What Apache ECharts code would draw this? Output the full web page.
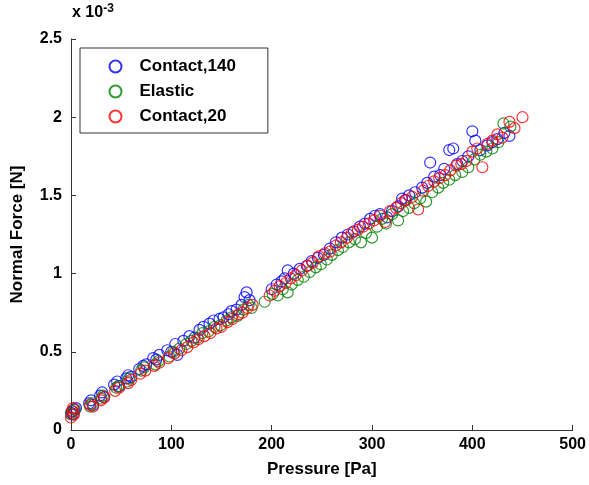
<!DOCTYPE html>
<html>
<head>
<meta charset="utf-8">
<script src="https://cdn.jsdelivr.net/npm/echarts@6/dist/echarts.min.js"></script>
<style>
html, body { margin: 0; padding: 0; background: #fff; }
#chart-panel { width: 589px; height: 485px; }
</style>
</head>
<body>
<div id="chart-panel"></div>
<script>
// pressure [Pa], normal force [x 1e-3 N]
var contact140 = [
    [0,0.11],[1,0.12],[2,0.10],[3,0.13],[5,0.14],[18,0.17],[20,0.19],[22,0.16],[29,0.22],[31,0.24],
    [33,0.21],[43,0.29],[46,0.31],[48,0.28],[55,0.33],[57,0.35],[60,0.34],[68,0.39],[72,0.41],[75,0.42],
    [82,0.46],[85,0.45],[88,0.48],[96,0.51],[100,0.50],[104,0.55],[106,0.48],[112,0.57],[118,0.60],[123,0.59],
    [128,0.64],[132,0.66],[138,0.68],[142,0.70],[148,0.71],[152,0.72],[157,0.74],[160,0.76],[165,0.77],[170,0.80],
    [173,0.85],[175,0.88],[178,0.83],[200,0.90],[205,0.93],[210,0.95],[213,0.97],[216,1.02],[222,1.00],[228,1.03],
    [235,1.05],[240,1.08],[246,1.10],[252,1.12],[258,1.16],[264,1.20],[270,1.23],[276,1.25],[282,1.27],[288,1.30],
    [293,1.32],[298,1.35],[303,1.37],[308,1.38],[315,1.36],[320,1.40],[326,1.43],[330,1.48],[333,1.47],[337,1.50],
    [343,1.52],[350,1.55],[355,1.58],[358,1.71],[362,1.62],[368,1.63],[372,1.67],[377,1.79],[381,1.80],[385,1.70],
    [390,1.72],[396,1.75],[400,1.91],[403,1.85],[408,1.79],[415,1.82],[420,1.84],[425,1.86],[432,1.90],[437,1.88]
];
var elastic = [
    [0,0.10],[2,0.12],[4,0.13],[19,0.15],[21,0.17],[30,0.20],[32,0.22],[45,0.27],[47,0.28],[56,0.31],
    [58,0.33],[70,0.38],[73,0.40],[84,0.42],[87,0.44],[98,0.47],[102,0.50],[108,0.52],[115,0.55],[120,0.57],
    [126,0.59],[131,0.62],[137,0.63],[143,0.66],[149,0.67],[155,0.70],[160,0.72],[166,0.73],[172,0.77],[177,0.80],
    [180,0.78],[193,0.82],[201,0.87],[206,0.86],[211,0.90],[216,0.88],[220,0.93],[226,0.96],[232,0.98],[238,1.01],
    [244,1.04],[249,1.06],[255,1.09],[260,1.12],[266,1.15],[271,1.17],[277,1.20],[283,1.22],[289,1.20],[294,1.26],
    [300,1.23],[305,1.30],[310,1.35],[314,1.32],[320,1.38],[326,1.34],[331,1.40],[337,1.42],[342,1.45],[348,1.48],
    [354,1.46],[360,1.52],[366,1.55],[371,1.58],[377,1.60],[383,1.63],[390,1.65],[396,1.68],[402,1.73],[408,1.76],
    [414,1.78],[420,1.80],[426,1.84],[431,1.96],[438,1.94]
];
var contact20 = [
    [0,0.08],[1,0.12],[3,0.10],[2,0.14],[19,0.16],[22,0.15],[30,0.19],[33,0.21],[44,0.25],[48,0.27],
    [57,0.30],[60,0.32],[69,0.36],[74,0.38],[83,0.41],[88,0.43],[97,0.46],[103,0.49],[110,0.51],[116,0.53],
    [122,0.56],[127,0.58],[133,0.60],[139,0.62],[145,0.65],[150,0.66],[156,0.69],[161,0.71],[167,0.74],[171,0.75],
    [176,0.78],[181,0.80],[198,0.86],[203,0.89],[208,0.92],[214,0.94],[219,0.97],[224,0.99],[230,1.02],[236,1.05],
    [241,1.07],[247,1.11],[253,1.13],[258,1.14],[264,1.18],[269,1.20],[275,1.23],[280,1.26],[286,1.28],[291,1.30],
    [297,1.32],[302,1.34],[308,1.37],[313,1.33],[318,1.40],[324,1.42],[329,1.45],[334,1.47],[340,1.49],[346,1.41],
    [351,1.53],[356,1.56],[362,1.59],[367,1.61],[373,1.63],[378,1.66],[384,1.69],[389,1.70],[394,1.72],[400,1.78],
    [405,1.80],[410,1.68],[415,1.83],[420,1.85],[425,1.89],[430,1.87],[437,1.97],[442,1.93],[450,2.00]
];
var seriesNames = ['Contact,140', 'Elastic', 'Contact,20'];
var seriesColors = ['#0000ff', '#008000', '#ff0000'];

var chart = echarts.init(document.getElementById('chart-panel'));
var font = 'Liberation Sans, Arial, sans-serif';

function circles(name, data, color) {
    return {
        name: name,
        type: 'scatter',
        data: data,
        symbol: 'circle',
        symbolSize: 11,
        itemStyle: { color: 'none', borderColor: color, borderWidth: 1.2 },
        emphasis: { disabled: true }
    };
}

var option = {
    backgroundColor: '#fff',
    animation: false,
    grid: { left: 71, right: 16, top: 39, bottom: 55 },
    xAxis: {
        type: 'value', min: 0, max: 500, interval: 100,
        name: 'Pressure [Pa]', nameLocation: 'middle', nameGap: 31,
        nameTextStyle: { fontFamily: font, fontWeight: 'bold', fontSize: 17, color: '#000' },
        axisLine: { lineStyle: { color: '#333', width: 1 } },
        axisTick: { inside: true, length: 5, lineStyle: { color: '#333' } },
        axisLabel: { fontFamily: font, fontWeight: 'bold', fontSize: 16, color: '#000', margin: 7 },
        splitLine: { show: false }
    },
    yAxis: {
        type: 'value', min: 0, max: 2.5, interval: 0.5,
        name: 'Normal Force [N]', nameLocation: 'middle', nameGap: 45,
        nameTextStyle: { fontFamily: font, fontWeight: 'bold', fontSize: 17, color: '#000' },
        axisLine: { show: true, lineStyle: { color: '#333', width: 1 } },
        axisTick: { show: true, inside: true, length: 5, lineStyle: { color: '#333' } },
        axisLabel: { fontFamily: font, fontWeight: 'bold', fontSize: 16, color: '#000', margin: 9 },
        splitLine: { show: false }
    },
    legend: {
        orient: 'vertical', left: 80, top: 48,
        data: seriesNames,
        backgroundColor: '#fff', borderColor: '#333', borderWidth: 1,
        padding: [10, 32, 8, 27],
        itemWidth: 12, itemHeight: 12, itemGap: 8,
        textStyle: { fontFamily: font, fontWeight: 'bold', fontSize: 17, color: '#000', padding: [0, 0, 0, 13] }
    },
    graphic: [{
        type: 'text', left: 72, top: 3,
        style: {
            text: 'x 10{s|-3}',
            font: 'bold 16px ' + font, fill: '#000',
            rich: { s: { fontSize: 12, fontWeight: 'bold', fontFamily: font, verticalAlign: 'top', padding: [0, 0, 8, 0] } }
        }
    }],
    series: [
        circles(seriesNames[0], contact140, seriesColors[0]),
        circles(seriesNames[1], elastic, seriesColors[1]),
        circles(seriesNames[2], contact20, seriesColors[2])
    ]
};
chart.setOption(option);
</script>
</body>
</html>
